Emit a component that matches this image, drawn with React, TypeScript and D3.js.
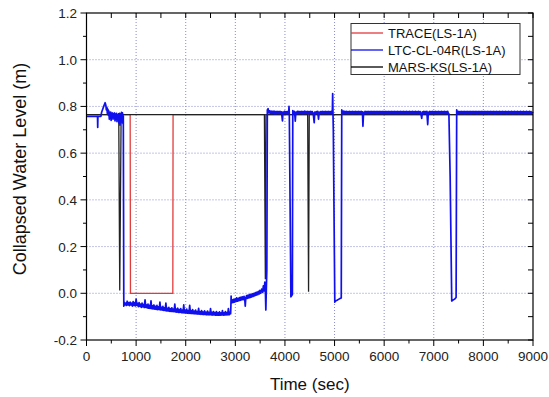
import React from "react";
import * as d3 from "d3";

type P = [number, number];

const xTickValues = [0, 1000, 2000, 3000, 4000, 5000, 6000, 7000, 8000, 9000];
const yTickValues = [-0.2, 0.0, 0.2, 0.4, 0.6, 0.8, 1.0, 1.2];

const seriesNames = ["TRACE(LS-1A)", "LTC-CL-04R(LS-1A)", "MARS-KS(LS-1A)"];

const traceData: P[] = [
  [0, 0.765], [880, 0.765], [886, 0.0], [1740, 0.0], [1745, 0.765], [9000, 0.765],
];

const marsData: P[] = [
  [0, 0.765], [650, 0.765], [670, 0.012], [698, 0.765], [3586, 0.765], [3605, 0.06],
  [3618, 0.765], [4458, 0.765], [4476, 0.007], [4490, 0.765], [9000, 0.765],
];

const ltcStart: P[] = [
  [0, 0.757], [180, 0.757], [222, 0.757], [226, 0.71], [230, 0.757], [290, 0.757],
  [305, 0.775], [330, 0.79], [355, 0.805], [375, 0.816], [390, 0.805], [400, 0.785],
  [412, 0.795], [420, 0.77], [432, 0.788], [440, 0.762], [452, 0.78], [460, 0.745],
  [470, 0.772], [478, 0.752], [488, 0.776], [496, 0.74], [505, 0.77], [515, 0.755],
  [525, 0.772], [535, 0.745], [545, 0.768], [555, 0.755], [565, 0.772], [575, 0.738],
  [585, 0.765], [595, 0.75], [605, 0.77], [615, 0.735], [625, 0.762], [635, 0.748],
  [645, 0.768], [655, 0.728], [665, 0.77], [675, 0.72], [685, 0.766], [695, 0.745],
  [705, 0.775], [715, 0.73], [725, 0.772], [735, 0.75], [742, 0.76],
];

const ltcLow: P[] = [
  [752, -0.055], [760, -0.038], [775, -0.05], [790, -0.042], [805, -0.052], [820, -0.034],
  [835, -0.05], [850, -0.04], [865, -0.053], [880, -0.038], [895, -0.05], [910, -0.042],
  [925, -0.055], [940, -0.036], [955, -0.052], [970, -0.04], [985, -0.054], [1000, -0.025],
  [1015, -0.052], [1030, -0.043], [1045, -0.057], [1060, -0.04], [1075, -0.056],
  [1090, -0.046], [1105, -0.06], [1120, -0.042], [1135, -0.058], [1150, -0.048],
  [1165, -0.061], [1180, -0.028], [1195, -0.06], [1210, -0.05], [1225, -0.063],
  [1240, -0.046], [1255, -0.064], [1270, -0.052], [1285, -0.065], [1300, -0.032],
  [1315, -0.066], [1330, -0.054], [1345, -0.067], [1360, -0.05], [1375, -0.068],
  [1390, -0.056], [1405, -0.069], [1420, -0.052], [1435, -0.07], [1450, -0.058],
  [1465, -0.07], [1480, -0.038], [1495, -0.071], [1510, -0.06], [1525, -0.072],
  [1540, -0.056], [1555, -0.073], [1570, -0.062], [1585, -0.074], [1600, -0.042],
  [1615, -0.075], [1630, -0.064], [1645, -0.076], [1660, -0.06], [1675, -0.077],
  [1690, -0.066], [1705, -0.078], [1720, -0.062], [1735, -0.078], [1750, -0.068],
  [1765, -0.079], [1780, -0.046], [1795, -0.08], [1810, -0.068], [1825, -0.081],
  [1840, -0.064], [1855, -0.082], [1870, -0.07], [1885, -0.082], [1900, -0.066],
  [1915, -0.083], [1930, -0.072], [1945, -0.084], [1960, -0.05], [1975, -0.084],
  [1990, -0.072], [2005, -0.085], [2020, -0.068], [2035, -0.085], [2050, -0.074],
  [2065, -0.086], [2080, -0.052], [2095, -0.086], [2110, -0.074], [2125, -0.087],
  [2140, -0.07], [2155, -0.087], [2170, -0.076], [2185, -0.088], [2200, -0.072],
  [2215, -0.088], [2230, -0.078], [2245, -0.089], [2260, -0.064], [2275, -0.089],
  [2290, -0.078], [2305, -0.09], [2320, -0.074], [2335, -0.09], [2350, -0.08],
  [2365, -0.091], [2380, -0.075], [2395, -0.091], [2410, -0.081], [2425, -0.092],
  [2440, -0.076], [2455, -0.092], [2470, -0.082], [2485, -0.092], [2500, -0.066],
  [2515, -0.093], [2530, -0.082], [2545, -0.093], [2560, -0.078], [2575, -0.093],
  [2590, -0.083], [2605, -0.094], [2620, -0.078], [2635, -0.094], [2650, -0.084],
  [2665, -0.094], [2680, -0.079], [2695, -0.094], [2710, -0.084], [2725, -0.093],
  [2740, -0.074], [2755, -0.094], [2770, -0.084], [2785, -0.093], [2800, -0.078],
  [2815, -0.093], [2830, -0.083], [2845, -0.092], [2860, -0.066], [2875, -0.092],
  [2890, -0.082], [2905, -0.088], [2910, -0.06], [2915, -0.012], [2920, -0.042],
  [2935, -0.028], [2950, -0.04], [2965, -0.026], [2980, -0.038], [2995, -0.024],
  [3010, -0.036], [3025, -0.02], [3040, -0.034], [3055, -0.022], [3070, -0.032],
  [3085, -0.018], [3100, -0.03], [3115, -0.016], [3130, -0.028], [3145, -0.015],
  [3160, -0.027], [3175, -0.013], [3190, -0.025], [3200, -0.055], [3210, -0.022],
  [3225, -0.01], [3240, -0.022], [3255, -0.008], [3270, -0.02], [3285, -0.006],
  [3300, -0.018], [3315, -0.004], [3330, -0.016], [3345, -0.002], [3360, -0.013],
  [3375, 0.0], [3390, -0.011], [3405, 0.003], [3420, -0.008], [3435, 0.005],
  [3450, -0.006], [3465, 0.008], [3480, -0.003], [3495, 0.012], [3510, 0.0],
  [3530, 0.018], [3550, 0.004], [3565, 0.032], [3580, 0.01], [3595, 0.048],
  [3605, 0.015], [3615, -0.072], [3625, 0.02], [3635, 0.1],
];

const ltcHigh: P[] = [
  [3645, 0.785], [3660, 0.79], [3675, 0.772], [3690, 0.781], [3705, 0.77], [3720, 0.78],
  [3735, 0.769], [3750, 0.779], [3765, 0.77], [3780, 0.78], [3795, 0.768], [3810, 0.778],
  [3825, 0.769], [3840, 0.779], [3855, 0.77], [3870, 0.778], [3885, 0.769], [3900, 0.779],
  [3915, 0.77], [3930, 0.777], [3950, 0.738], [3960, 0.776], [3975, 0.769], [3990, 0.779],
  [4005, 0.77], [4020, 0.778], [4035, 0.769], [4050, 0.778], [4065, 0.77],
  [4075, 0.776], [4082, 0.8], [4088, 0.77], [4120, -0.015], [4150, -0.005],
  [4158, 0.782], [4170, 0.77], [4185, 0.779], [4197, 0.77], [4208, 0.737], [4220, 0.776],
  [4235, 0.769], [4250, 0.779], [4265, 0.77], [4280, 0.779], [4295, 0.769], [4310, 0.778],
  [4325, 0.77], [4340, 0.779], [4355, 0.769], [4370, 0.778], [4385, 0.77], [4400, 0.78],
  [4415, 0.769], [4430, 0.778], [4445, 0.77], [4460, 0.779], [4475, 0.769], [4490, 0.778],
  [4505, 0.77], [4520, 0.779], [4535, 0.769], [4550, 0.778], [4570, 0.77],
  [4590, 0.73], [4600, 0.776], [4615, 0.769], [4630, 0.778], [4645, 0.77], [4660, 0.779],
  [4677, 0.745], [4690, 0.776], [4705, 0.769], [4720, 0.778], [4735, 0.77], [4750, 0.779],
  [4765, 0.769], [4780, 0.778], [4795, 0.77], [4810, 0.779], [4825, 0.769], [4840, 0.778],
  [4855, 0.77], [4870, 0.779], [4885, 0.769], [4900, 0.778], [4915, 0.77], [4930, 0.779],
  [4945, 0.769], [4955, 0.776], [4962, 0.855], [4968, 0.775], [4975, 0.7],
  [5005, -0.038], [5020, -0.033], [5050, -0.03], [5080, -0.026], [5110, -0.022],
  [5135, -0.02], [5145, 0.785], [5160, 0.77], [5175, 0.78], [5190, 0.769], [5205, 0.779],
  [5220, 0.77], [5235, 0.779], [5250, 0.769], [5265, 0.778], [5280, 0.77], [5295, 0.779],
  [5310, 0.769], [5325, 0.778], [5340, 0.77], [5355, 0.779], [5370, 0.769], [5385, 0.778],
  [5400, 0.77], [5415, 0.779], [5430, 0.769], [5445, 0.778], [5460, 0.77], [5475, 0.779],
  [5490, 0.769], [5505, 0.778], [5520, 0.77], [5535, 0.779], [5550, 0.769], [5562, 0.777],
  [5572, 0.715], [5585, 0.775], [5600, 0.769], [5615, 0.779], [5630, 0.77], [5645, 0.778],
  [5660, 0.769], [5675, 0.779], [5690, 0.77], [5705, 0.778], [5720, 0.769], [5735, 0.779],
  [5750, 0.77], [5765, 0.778], [5780, 0.769], [5795, 0.779], [5810, 0.77], [5825, 0.778],
  [5840, 0.769], [5855, 0.779], [5870, 0.77], [5885, 0.778], [5900, 0.769], [5915, 0.779],
  [5930, 0.77], [5945, 0.778], [5960, 0.769], [5975, 0.779], [5990, 0.77], [6005, 0.778],
  [6020, 0.769], [6035, 0.779], [6050, 0.77], [6065, 0.778], [6080, 0.769], [6095, 0.779],
  [6110, 0.77], [6125, 0.778], [6140, 0.769], [6155, 0.779], [6170, 0.77], [6185, 0.778],
  [6200, 0.769], [6215, 0.779], [6230, 0.77], [6245, 0.778], [6260, 0.769], [6275, 0.779],
  [6290, 0.77], [6305, 0.778], [6320, 0.769], [6335, 0.779], [6350, 0.77], [6365, 0.778],
  [6380, 0.769], [6395, 0.779], [6410, 0.77], [6425, 0.778], [6440, 0.769], [6455, 0.779],
  [6470, 0.77], [6485, 0.778], [6500, 0.769], [6515, 0.779], [6530, 0.77], [6545, 0.778],
  [6560, 0.769], [6575, 0.779], [6590, 0.77], [6605, 0.778], [6620, 0.769], [6635, 0.779],
  [6650, 0.77], [6665, 0.778], [6680, 0.769], [6695, 0.779], [6710, 0.77], [6725, 0.778],
  [6740, 0.769], [6757, 0.749], [6770, 0.777], [6785, 0.769], [6800, 0.779], [6815, 0.77],
  [6830, 0.778], [6845, 0.769], [6860, 0.779], [6878, 0.722], [6890, 0.776], [6905, 0.769],
  [6920, 0.779], [6935, 0.77], [6950, 0.778], [6965, 0.769], [6980, 0.779], [6995, 0.77],
  [7010, 0.778], [7025, 0.769], [7040, 0.779], [7055, 0.77], [7070, 0.778], [7085, 0.769],
  [7100, 0.779], [7115, 0.77], [7130, 0.778], [7145, 0.769], [7160, 0.779], [7175, 0.77],
  [7190, 0.778], [7205, 0.769], [7220, 0.779], [7235, 0.77], [7250, 0.778], [7265, 0.769],
  [7280, 0.779], [7295, 0.77], [7305, 0.768], [7330, 0.5],
  [7362, -0.033], [7380, -0.03], [7420, -0.025], [7450, -0.018], [7462, 0.785],
  [7475, 0.77], [7490, 0.779], [7505, 0.769], [7520, 0.778], [7535, 0.77], [7550, 0.779],
  [7565, 0.769], [7580, 0.778], [7595, 0.77], [7610, 0.779], [7625, 0.769], [7640, 0.778],
  [7655, 0.77], [7670, 0.779], [7685, 0.769], [7700, 0.778], [7715, 0.77], [7730, 0.779],
  [7745, 0.769], [7760, 0.778], [7775, 0.77], [7790, 0.779], [7805, 0.769], [7820, 0.778],
  [7835, 0.77], [7850, 0.779], [7865, 0.769], [7880, 0.778], [7895, 0.77], [7910, 0.779],
  [7925, 0.769], [7940, 0.778], [7955, 0.77], [7970, 0.779], [7985, 0.769], [8000, 0.778],
  [8015, 0.77], [8030, 0.779], [8045, 0.769], [8060, 0.778], [8075, 0.77], [8090, 0.779],
  [8105, 0.769], [8120, 0.778], [8135, 0.77], [8150, 0.779], [8165, 0.769], [8180, 0.778],
  [8195, 0.77], [8210, 0.779], [8225, 0.769], [8240, 0.778], [8255, 0.77], [8270, 0.779],
  [8285, 0.769], [8300, 0.778], [8315, 0.77], [8330, 0.779], [8345, 0.769], [8360, 0.778],
  [8375, 0.77], [8390, 0.779], [8405, 0.769], [8420, 0.778], [8435, 0.77], [8450, 0.779],
  [8465, 0.769], [8480, 0.778], [8495, 0.77], [8510, 0.779], [8525, 0.769], [8540, 0.778],
  [8555, 0.77], [8570, 0.779], [8585, 0.769], [8600, 0.778], [8615, 0.77], [8630, 0.779],
  [8645, 0.769], [8660, 0.778], [8675, 0.77], [8690, 0.779], [8705, 0.769], [8720, 0.778],
  [8735, 0.77], [8750, 0.779], [8765, 0.769], [8780, 0.778], [8795, 0.77], [8810, 0.779],
  [8825, 0.769], [8840, 0.778], [8855, 0.77], [8870, 0.779], [8885, 0.769], [8900, 0.778],
  [8915, 0.77], [8930, 0.779], [8945, 0.769], [8960, 0.778], [8975, 0.77], [9000, 0.776],
];

const ltcData: P[] = [...ltcStart, ...ltcLow, ...ltcHigh];

const W = 549;
const H = 397;
const L = 86.5;
const R = 533;
const T = 13;
const B = 340;

const FONT = "Liberation Sans, Arial, sans-serif";

export default function App() {
  const x = d3.scaleLinear().domain([0, 9000]).range([L, R]);
  const y = d3.scaleLinear().domain([-0.2, 1.2]).range([B, T]);
  const line = d3
    .line<P>()
    .x((d) => x(d[0]))
    .y((d) => y(d[1]));

  const minorX = d3.range(0, 9001, 500);
  const minorY = d3.range(-2, 13).map((v) => v / 10);
  const gridX = xTickValues.filter((v) => v > 0 && v < 9000);
  const gridY = yTickValues.filter((v) => v > -0.2 && v < 1.2);
  const colors = ["#e23b3b", "#1010ee", "#000000"];

  return (
    <div style={{ position: "absolute", left: 0, top: 0 }}>
      <svg width={W} height={H} style={{ display: "block", background: "#fff" }}>
        <rect x={0} y={0} width={W} height={H} fill="#fff" />
        {gridX.map((v) => (
          <line key={"gx" + v} x1={x(v)} x2={x(v)} y1={T} y2={B} stroke="#8a8ad0" strokeWidth={1} strokeDasharray="1,2" />
        ))}
        {gridY.map((v) => (
          <line key={"gy" + v} x1={L} x2={R} y1={y(v)} y2={y(v)} stroke="#8a8ad0" strokeWidth={1} strokeDasharray="1,2" />
        ))}
        <path d={line(traceData) || ""} fill="none" stroke={colors[0]} strokeWidth={1.3} />
        <path d={line(marsData) || ""} fill="none" stroke="#222" strokeWidth={1.3} />
        <path d={line(ltcData) || ""} fill="none" stroke={colors[1]} strokeWidth={1.7} strokeLinejoin="round" />

        {/* frame */}
        <rect x={L} y={T} width={R - L} height={B - T} fill="none" stroke="#000" strokeWidth={1.2} />

        {/* bottom ticks */}
        {minorX.map((v) => (
          <line key={"bx" + v} x1={x(v)} x2={x(v)} y1={B} y2={B + (v % 1000 === 0 ? 6 : 3.5)} stroke="#000" strokeWidth={1} />
        ))}
        {/* top ticks */}
        {minorX.map((v) => (
          <line key={"tx" + v} x1={x(v)} x2={x(v)} y1={T} y2={T + 5} stroke="#000" strokeWidth={1} />
        ))}
        {/* left ticks */}
        {minorY.map((v, i) => (
          <line key={"ly" + i} x1={L - (i % 2 === 0 ? 6 : 3.5)} x2={L} y1={y(v)} y2={y(v)} stroke="#000" strokeWidth={1} />
        ))}
        {/* right ticks */}
        {minorY.map((v, i) => (
          <line key={"ry" + i} x1={R - 5} x2={R} y1={y(v)} y2={y(v)} stroke="#000" strokeWidth={1} />
        ))}

        {xTickValues.map((v) => (
          <text key={"xl" + v} x={x(v)} y={361} textAnchor="middle" fontFamily={FONT} fontSize={13.5} fill="#222">
            {v}
          </text>
        ))}
        {yTickValues.map((v) => (
          <text key={"yl" + v} x={77} y={y(v) + 5} textAnchor="end" fontFamily={FONT} fontSize={13.5} fill="#222">
            {v.toFixed(1)}
          </text>
        ))}

        <text x={(L + R) / 2} y={390} textAnchor="middle" fontFamily={FONT} fontSize={17} fill="#111">
          Time (sec)
        </text>
        <text
          transform={`translate(26, ${169}) rotate(-90)`}
          textAnchor="middle"
          fontFamily={FONT}
          fontSize={18}
          fill="#111"
        >
          Collapsed Water Level (m)
        </text>

        {/* legend */}
        <rect x={351} y={23.5} width={169} height={51} fill="#fff" stroke="#333" strokeWidth={1} />
        {seriesNames.map((n, i) => (
          <g key={n}>
            <line x1={351} x2={383} y1={33 + i * 17} y2={33 + i * 17} stroke={colors[i]} strokeWidth={1.3} />
            <text x={388} y={37.8 + i * 17} fontFamily={FONT} fontSize={13} fill="#111">
              {n}
            </text>
          </g>
        ))}
      </svg>
    </div>
  );
}
